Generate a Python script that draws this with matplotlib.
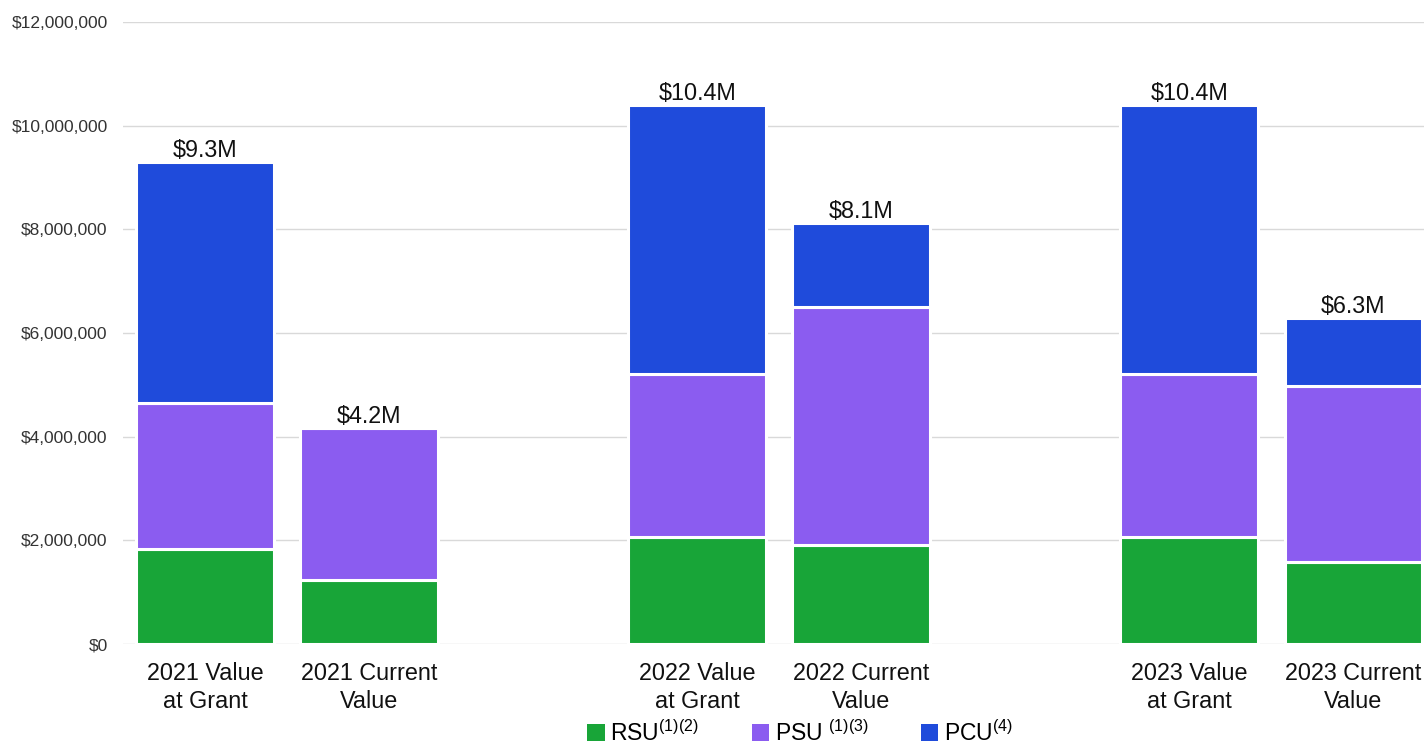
import matplotlib
matplotlib.use("Agg")
import matplotlib.pyplot as plt
from matplotlib.patches import Patch
from matplotlib.ticker import FuncFormatter

plt.rcParams["font.family"] = ["Liberation Sans", "DejaVu Sans"]
plt.rcParams["mathtext.fontset"] = "custom"
plt.rcParams["mathtext.rm"] = "Liberation Sans"
plt.rcParams["mathtext.it"] = "Liberation Sans"
plt.rcParams["mathtext.bf"] = "Liberation Sans:bold"

# Categories and positions (two bars per grant year)
categories = ["2021 Value\nat Grant", "2021 Current\nValue",
              "2022 Value\nat Grant", "2022 Current\nValue",
              "2023 Value\nat Grant", "2023 Current\nValue"]
positions = [0, 1, 3, 4, 6, 7]

# Award values in dollars
rsu = [1.83e6, 1.23e6, 2.06e6, 1.91e6, 2.06e6, 1.58e6]
psu = [2.82e6, 2.94e6, 3.15e6, 4.59e6, 3.15e6, 3.40e6]
pcu = [4.65e6, 0.0, 5.19e6, 1.62e6, 5.19e6, 1.30e6]

series_labels = [r"RSU$^{(1)(2)}$", r"PSU $^{(1)(3)}$", r"PCU$^{(4)}$"]
colors = ["#18a538", "#8b5cf0", "#1f4bdb"]

y_ticks = [0, 2e6, 4e6, 6e6, 8e6, 10e6, 12e6]

fig = plt.figure(figsize=(14.24, 7.46), dpi=100)
ax = fig.add_axes([123 / 1424, 1 - 644 / 746, 1 - 123 / 1424, (644 - 22) / 746])

width = 0.84
bottoms = [0.0] * len(positions)
for vals, col in zip([rsu, psu, pcu], colors):
    ax.bar(positions, vals, width=width, bottom=bottoms, color=col,
           edgecolor="white", linewidth=2.2, zorder=3)
    bottoms = [b + v for b, v in zip(bottoms, vals)]

for x, total in zip(positions, bottoms):
    ax.annotate(f"${total / 1e6:.1f}M", (x, total), xytext=(0, 0),
                textcoords="offset points", ha="center", va="bottom",
                fontsize=16.8, color="#111111")

ax.set_xlim(-0.5, 7.43)
ax.set_ylim(0, 12e6)
ax.set_yticks(y_ticks)
ax.yaxis.set_major_formatter(FuncFormatter(lambda v, p: f"${v:,.0f}"))
ax.set_xticks(positions)
ax.set_xticklabels(categories, fontsize=16.8, color="#111111", linespacing=1.25)
ax.tick_params(axis="x", length=0, pad=13)
ax.tick_params(axis="y", length=0, pad=11, labelsize=12.5, labelcolor="#333333")
ax.grid(axis="y", color="#d9d9d9", linewidth=1.0, zorder=0)
for s in ax.spines.values():
    s.set_visible(False)

handles = [Patch(facecolor=c, edgecolor="none") for c in colors]
fig.legend(handles, series_labels, loc="upper center", bbox_to_anchor=(0.562, 0.05),
           ncol=3, frameon=False, fontsize=16.5, handlelength=0.75, handleheight=0.75,
           handletextpad=0.25, columnspacing=2.3, borderpad=0)

fig.savefig("out.png", dpi=100)
